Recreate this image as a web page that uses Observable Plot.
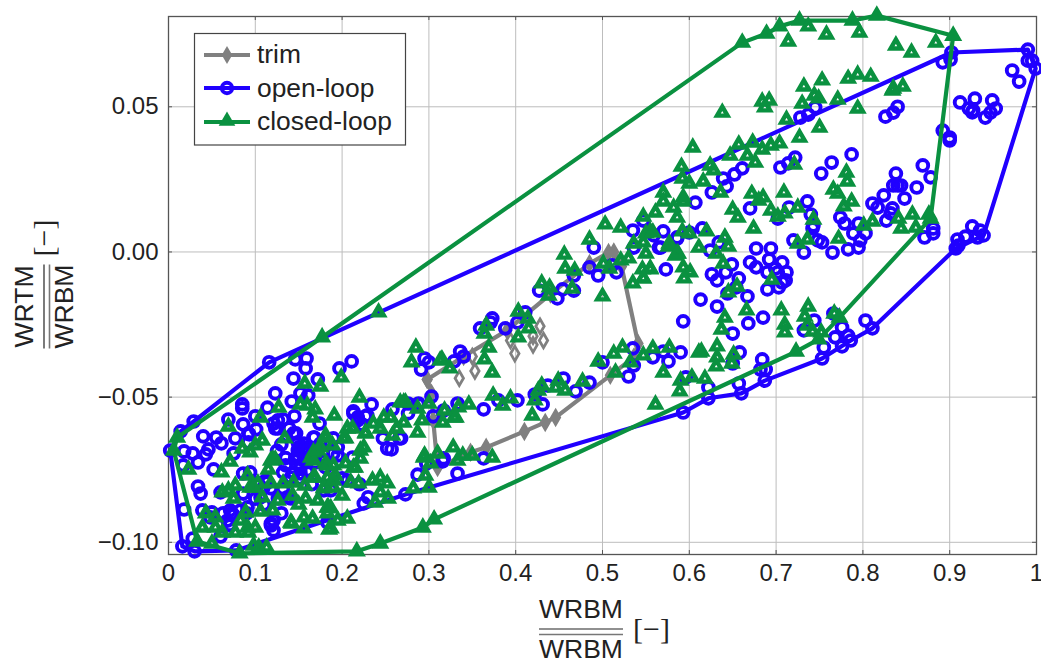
<!DOCTYPE html>
<html><head><meta charset="utf-8">
<script src="https://cdn.jsdelivr.net/npm/d3@7"></script>
<script src="https://cdn.jsdelivr.net/npm/@observablehq/plot@0.6"></script>
<style>html,body{margin:0;padding:0;background:#fff}svg{display:block}</style>
</head><body><div id="chart"></div>
<script>
const xTicks=[0,.1,.2,.3,.4,.5,.6,.7,.8,.9,1];
const yTicks=[.05,0,-.05,-.1];
const xTickLabels=["0","0.1","0.2","0.3","0.4","0.5","0.6","0.7","0.8","0.9","1"];
const yTickLabels=["0.05","0.00","−0.05","−0.10"];
const seriesNames=["trim","open-loop","closed-loop"];
const trimPath=[[.298,-.0439],[.34,-.036],[.39,-.027],[.44,-.0145],[.485,-.004],[.507,-.0002],[.513,0],[.522,-.005],[.541,-.0315],[.536,-.0363],[.509,-.0425],[.446,-.057],[.434,-.0587],[.41,-.0618],[.366,-.0673],[.348,-.069],[.31,-.0742],[.305,-.058],[.303,-.0487],[.298,-.0439]];
const trimPoints=[[.335,-.0435],[.353,-.041],[.35,-.036],[.399,-.035],[.394,-.0305],[.42,-.032],[.432,-.0305],[.428,-.0256],[.42,-.029]];
const openHull=[[.002,-.0684],[.014,-.0618],[.029,-.0584],[.116,-.038],[.902,.0687],[.99,.0697],[.999,.0632],[.939,.0057],[.907,.0012],[.811,-.0263],[.786,-.0305],[.753,-.0367],[.687,-.0443],[.66,-.0487],[.622,-.0504],[.593,-.0553],[.273,-.0835],[.078,-.1028],[.03,-.1031],[.016,-.1014],[.002,-.0684]];
const openPoints=[[.99,.0697],[.99,.0659],[.995,.0659],[.999,.0632],[.972,.0625],[.98,.0587],[.902,.0687],[.901,.0663],[.892,.0653],[.912,.0515],[.929,.0528],[.922,.0494],[.927,.0487],[.926,.0481],[.949,.0522],[.953,.0494],[.947,.048],[.941,.0463],[.892,.0418],[.9,.0394],[.9,.0384],[.84,.05],[.835,.048],[.826,.0466],[.745,.0498],[.737,.0473],[.728,.0463],[.787,.0336],[.764,.0308],[.752,.027],[.722,.0325],[.714,.0305],[.705,.0291],[.661,.0288],[.652,.0267],[.639,.0253],[.643,.0226],[.626,.0205],[.607,.017],[.869,.0298],[.878,.0257],[.838,.027],[.835,.0229],[.844,.0229],[.84,.0229],[.862,.0222],[.848,.0184],[.824,.0195],[.811,.0167],[.817,.0153],[.834,.015],[.832,.0133],[.827,.0108],[.736,.0174],[.715,.0153],[.67,.015],[.74,.0129],[.774,.0119],[.779,.0098],[.702,.0115],[.926,.0088],[.935,.0074],[.939,.0057],[.932,.005],[.918,.0053],[.909,.0043],[.907,.0012],[.91,.0022],[.881,.0081],[.881,.0064],[.871,.005],[.789,.0064],[.803,.0064],[.795,.0098],[.797,.004],[.795,.0015],[.783,.0009],[.765,-.0002],[.753,.0033],[.748,.004],[.742,.0081],[.743,.0091],[.72,.004],[.732,-.0002],[.677,.0012],[.694,.0012],[.624,.0005],[.634,.0033],[.57,.0071],[.586,.0046],[.615,.0081],[.6,.0067],[.567,.0015],[.547,.0108],[.559,.0057],[.692,-.0026],[.707,-.0036],[.67,-.0036],[.677,-.0053],[.69,-.007],[.699,-.0057],[.712,-.007],[.711,-.0098],[.702,-.007],[.707,-.0105],[.703,-.0122],[.69,-.0129],[.649,-.0043],[.642,-.007],[.626,-.0077],[.632,-.0098],[.657,-.0091],[.654,-.0122],[.644,-.0143],[.667,-.0153],[.613,-.0164],[.632,-.0188],[.593,-.0239],[.685,-.0226],[.668,-.0246],[.65,-.0281],[.658,-.0346],[.59,-.0346],[.576,-.0377],[.57,-.0343],[.558,-.0363],[.65,-.0384],[.596,-.0432],[.622,-.0467],[.622,-.0504],[.593,-.0553],[.657,-.0453],[.66,-.0487],[.684,-.037],[.682,-.0405],[.688,-.0405],[.687,-.0443],[.732,-.027],[.744,-.0236],[.766,-.0212],[.776,-.026],[.768,-.0294],[.783,-.0288],[.786,-.0305],[.776,-.0325],[.755,-.0329],[.753,-.0367],[.803,-.0236],[.811,-.0263],[.49,.0015],[.485,-.0053],[.495,-.0081],[.516,-.007],[.511,-.0046],[.467,-.0081],[.467,-.0133],[.454,-.0129],[.448,-.016],[.427,-.0133],[.411,-.0208],[.402,-.0243],[.388,-.0263],[.373,-.0229],[.371,-.0243],[.359,-.0263],[.336,-.0343],[.34,-.036],[.329,-.0377],[.295,-.0367],[.3,-.038],[.291,-.0405],[.303,-.0498],[.305,-.0566],[.276,-.0522],[.288,-.0522],[.317,-.0546],[.333,-.0522],[.363,-.0542],[.38,-.0511],[.402,-.0511],[.422,-.0491],[.431,-.0525],[.437,-.046],[.455,-.0436],[.469,-.048],[.485,-.045],[.5,-.038],[.535,-.0332],[.536,-.0391],[.53,-.0429],[.573,-.006],[.535,.0074],[.536,.0015],[.565,.0015],[.586,.005],[.363,-.0711],[.317,-.0711],[.268,-.0642],[.116,-.038],[.146,-.037],[.159,-.0367],[.158,-.0401],[.144,-.0436],[.172,-.0439],[.197,-.0401],[.211,-.0377],[.123,-.0487],[.161,-.0494],[.152,-.0487],[.142,-.0515],[.085,-.0525],[.085,-.0539],[.114,-.0536],[.1,-.0566],[.132,-.0577],[.145,-.0566],[.069,-.0577],[.086,-.0594],[.121,-.0591],[.126,-.0608],[.139,-.0608],[.101,-.0611],[.093,-.0628],[.147,-.0625],[.077,-.0642],[.04,-.0635],[.055,-.0639],[.061,-.0659],[.092,-.0656],[.13,-.0663],[.168,-.0639],[.174,-.0591],[.213,-.0549],[.234,-.0525],[.218,-.057],[.227,-.0566],[.223,-.0594],[.258,-.0542],[.276,-.0556],[.288,-.0525],[.266,-.0642],[.257,-.068],[.247,-.0642],[.014,-.0618],[.029,-.0584],[.002,-.0684],[.018,-.0687],[.028,-.0694],[.046,-.068],[.043,-.0697],[.034,-.0725],[.017,-.0735],[.052,-.0749],[.075,-.0694],[.034,-.0808],[.037,-.0832],[.018,-.0887],[.039,-.089],[.05,-.0897],[.063,-.09],[.073,-.09],[.083,-.089],[.016,-.1014],[.028,-.0987],[.03,-.1031],[.078,-.1028],[.15,-.0673],[.156,-.0673],[.149,-.0711],[.16,-.0708],[.19,-.0694],[.195,-.0701],[.212,-.0708],[.135,-.0735],[.132,-.0759],[.144,-.0763],[.152,-.0763],[.16,-.0752],[.094,-.0759],[.086,-.0763],[.114,-.0794],[.109,-.0814],[.086,-.0832],[.06,-.0828],[.106,-.0845],[.137,-.0845],[.121,-.0925],[.118,-.0935],[.183,-.0931],[.225,-.0866],[.23,-.0845],[.125,-.0685],[.135,-.071],[.17,-.068],[.18,-.072],[.1,-.085],[.13,-.09],[.09,-.09],[.07,-.094],[.11,-.087],[.165,-.08],[.2,-.078],[.22,-.08],[.06,-.098],[.287,-.0767],[.297,-.0729],[.333,-.0763],[.273,-.0835],[.316,-.0721],[.149,-.0656],[.156,-.066],[.149,-.0684],[.16,-.0684],[.146,-.0711],[.152,-.0746],[.144,-.0759],[.16,-.0759],[.141,-.0777],[.15,-.078],[.112,-.0787],[.103,-.0797],[.118,-.0814],[.132,-.0814],[.141,-.0849],[.126,-.0849],[.091,-.088],[.071,-.089],[.075,-.0907],[.068,-.0925],[.071,-.0942],[.048,-.0914],[.118,-.0942],[.121,-.0959],[.179,-.0821],[.187,-.0821],[.206,-.0787],[.126,-.058],[.123,-.0608],[.092,-.0625],[.19,-.0642],[.195,-.0673],[.218,-.058],[.213,-.0556],[.229,-.0563],[.221,-.0597],[.252,-.0677],[.167,-.0639],[.144,-.0625],[.149,-.0701],[.156,-.0718],[.169,-.0725],[.175,-.066],[.181,-.0742]];
const closedHull=[[.006,-.0684],[.01,-.0639],[.177,-.0294],[.661,.0721],[.689,.0752],[.704,.0777],[.727,.0797],[.788,.0797],[.816,.0814],[.904,.0745],[.878,.0115],[.773,-.0226],[.749,-.0301],[.723,-.0343],[.306,-.0921],[.293,-.0949],[.244,-.1004],[.217,-.1031],[.082,-.1038],[.033,-.0997],[.006,-.0684]];
const closedPoints=[[.904,.0745],[.884,.0721],[.856,.0687],[.838,.0711],[.816,.0814],[.788,.0797],[.796,.0756],[.758,.0749],[.727,.0797],[.737,.0777],[.714,.0725],[.704,.0777],[.689,.0752],[.661,.0721],[.809,.0604],[.794,.0611],[.783,.0597],[.753,.0591],[.732,.057],[.744,.0539],[.749,.0529],[.73,.0511],[.771,.0525],[.794,.0494],[.835,.0563],[.846,.057],[.834,.0556],[.684,.0518],[.692,.0522],[.687,.0498],[.638,.048],[.712,.0456],[.75,.0429],[.727,.0394],[.673,.0377],[.657,.037],[.647,.0332],[.667,.0332],[.676,.0308],[.684,.0353],[.694,.0367],[.704,.0374],[.604,.036],[.591,.0294],[.592,.0253],[.6,.0236],[.624,.0298],[.628,.0281],[.616,.0243],[.636,.0205],[.721,.0301],[.781,.0274],[.782,.0243],[.766,.0215],[.771,.0201],[.709,.0205],[.672,.0201],[.685,.0188],[.68,.0177],[.57,.0205],[.57,.0174],[.593,.0188],[.593,.0174],[.582,.0153],[.561,.0136],[.586,.0119],[.547,.0122],[.65,.0146],[.656,.0119],[.694,.0143],[.725,.0153],[.71,.0133],[.702,.0122],[.778,.0157],[.787,.0174],[.743,.0112],[.841,.0115],[.857,.0129],[.876,.0129],[.878,.0115],[.861,.0084],[.844,.0081],[.811,.0105],[.801,.0091],[.674,.0081],[.592,.0071],[.6,.0064],[.62,.0071],[.641,.005],[.645,.0019],[.611,.0015],[.631,-.0005],[.576,.0019],[.587,-.0005],[.584,-.0012],[.555,.0071],[.547,.0033],[.772,.0046],[.736,.0043],[.725,.0029],[.639,-.004],[.593,-.0053],[.601,-.007],[.594,-.0091],[.555,-.0057],[.547,-.0091],[.695,-.0095],[.655,-.0119],[.645,-.0139],[.666,-.0201],[.641,-.0226],[.637,-.0267],[.706,-.0201],[.71,-.025],[.71,-.0277],[.737,-.0188],[.733,-.0222],[.736,-.0253],[.742,-.0274],[.752,-.0277],[.749,-.0301],[.767,-.0212],[.773,-.0226],[.723,-.0343],[.632,-.0325],[.632,-.0363],[.631,-.0394],[.651,-.0353],[.649,-.0384],[.614,-.0343],[.577,-.0329],[.558,-.0332],[.57,-.0415],[.59,-.0443],[.603,-.0432],[.618,-.0436],[.589,-.048],[.561,-.0525],[.503,.0095],[.521,.0084],[.485,.0043],[.456,-.0009],[.457,-.0057],[.468,-.0064],[.465,-.0126],[.501,-.004],[.508,-.0057],[.521,-.0029],[.5,-.0153],[.53,-.0022],[.536,.0029],[.55,.0064],[.558,.0067],[.55,-.0005],[.577,.0029],[.586,-.0005],[.546,-.006],[.555,-.006],[.547,-.0091],[.535,-.0108],[.43,-.0108],[.439,-.0122],[.438,-.015],[.403,-.0205],[.414,-.0229],[.415,-.0263],[.403,-.0294],[.366,-.0253],[.364,-.0281],[.369,-.0329],[.364,-.037],[.373,-.0415],[.324,-.0401],[.315,-.037],[.285,-.0329],[.28,-.038],[.513,-.035],[.523,-.0329],[.495,-.0377],[.515,-.0415],[.532,-.038],[.547,-.0356],[.611,-.0346],[.477,-.0446],[.43,-.046],[.426,-.0477],[.449,-.0443],[.446,-.0467],[.457,-.0477],[.422,-.0511],[.419,-.0563],[.394,-.0504],[.374,-.0494],[.385,-.0529],[.346,-.0525],[.334,-.0535],[.329,-.057],[.318,-.0546],[.316,-.0587],[.3,-.0522],[.287,-.0539],[.292,-.058],[.287,-.0622],[.271,-.0518],[.271,-.0587],[.328,-.0673],[.295,-.0701],[.31,-.0694],[.339,-.0701],[.35,-.0701],[.373,-.0708],[.177,-.0294],[.242,-.0208],[.313,-.0374],[.199,-.0432],[.157,-.0453],[.175,-.0463],[.22,-.0501],[.152,-.0525],[.16,-.0529],[.169,-.0542],[.127,-.0536],[.106,-.057],[.191,-.0563],[.166,-.057],[.069,-.0601],[.134,-.0642],[.01,-.0639],[.006,-.0684],[.023,-.0749],[.071,-.0722],[.061,-.0759],[.085,-.0677],[.094,-.069],[.1,-.0666],[.108,-.0649],[.12,-.0715],[.115,-.0749],[.091,-.077],[.077,-.0804],[.094,-.0811],[.069,-.0821],[.062,-.0828],[.075,-.0849],[.103,-.0797],[.118,-.0797],[.108,-.0845],[.132,-.0797],[.144,-.0794],[.157,-.0804],[.126,-.0856],[.143,-.0839],[.158,-.0849],[.15,-.087],[.172,-.0856],[.106,-.0894],[.12,-.089],[.089,-.0897],[.043,-.09],[.054,-.0914],[.039,-.0949],[.054,-.0949],[.062,-.0966],[.077,-.0966],[.083,-.0925],[.091,-.0949],[.1,-.0949],[.092,-.0966],[.142,-.0935],[.156,-.0952],[.156,-.0914],[.166,-.0918],[.184,-.088],[.183,-.09],[.206,-.0918],[.195,-.0925],[.185,-.0956],[.033,-.0997],[.05,-.1004],[.082,-.1038],[.098,-.1011],[.104,-.1018],[.113,-.1018],[.217,-.1031],[.244,-.1004],[.293,-.0949],[.306,-.0921],[.167,-.069],[.181,-.0639],[.167,-.0718],[.189,-.0666],[.175,-.0673],[.206,-.0608],[.212,-.0608],[.202,-.0642],[.227,-.0625],[.225,-.0673],[.221,-.0711],[.236,-.0591],[.248,-.057],[.256,-.057],[.244,-.0608],[.258,-.0632],[.263,-.0608],[.267,-.0518],[.273,-.0518],[.331,-.057],[.181,-.0728],[.19,-.0735],[.204,-.0728],[.215,-.0742],[.169,-.0777],[.183,-.0777],[.192,-.077],[.21,-.0794],[.219,-.0797],[.179,-.0814],[.19,-.0811],[.2,-.0839],[.235,-.0787],[.244,-.0777],[.252,-.0797],[.244,-.0828],[.253,-.0849],[.238,-.0863],[.282,-.0814],[.3,-.0811],[.296,-.077],[.294,-.0708],[.302,-.0728],[.333,-.0718],[.118,-.0718],[.123,-.0715],[.098,-.0811],[.167,-.0777],[.164,-.0708],[.172,-.0684],[.181,-.0632],[.183,-.0735],[.213,-.0742],[.221,-.0684],[.227,-.0622],[.204,-.0642],[.179,-.0811],[.19,-.0787],[.183,-.088],[.187,-.0883],[.141,-.0932],[.187,-.0952]];

const grey="#808080",blue="#2000ff",green="#0a9140",axisCol="#555",gridCol="#bdbdbd",textCol="#222";
const fmtX=new Map(xTicks.map((t,i)=>[t,xTickLabels[i]]));
const fmtY=new Map(yTicks.map((t,i)=>[t,yTickLabels[i]]));
const px={x:d=>d[0],y:d=>d[1]};
const plot=Plot.plot({
  width:1041,height:664,marginLeft:168,marginRight:5,marginTop:16,marginBottom:110,
  style:{background:"#fff",fontFamily:"'Liberation Sans',sans-serif"},
  x:{domain:[0,1]},y:{domain:[-.1042,.0811]},
  marks:[
    Plot.ruleX(xTicks,{stroke:gridCol,strokeWidth:1}),
    Plot.ruleY(yTicks,{stroke:gridCol,strokeWidth:1}),
    Plot.ruleX(xTicks,{stroke:axisCol,insetTop:534}),
    Plot.ruleX(xTicks,{stroke:axisCol,insetBottom:534}),
    Plot.ruleY(yTicks,{stroke:axisCol,insetRight:864}),
    Plot.ruleY(yTicks,{stroke:axisCol,insetLeft:864}),
    Plot.frame({stroke:axisCol,strokeWidth:1.3}),
    Plot.axisX({ticks:xTicks,tickSize:0,tickPadding:9,tickFormat:d=>fmtX.get(d),fontSize:24,fill:textCol,label:null}),
    Plot.axisY({ticks:yTicks,tickSize:0,tickPadding:10,tickFormat:d=>fmtY.get(d),fontSize:24,fill:textCol,label:null}),
    Plot.dot(trimPoints,{...px,symbol:"diamond",r:4.4,stroke:grey,strokeWidth:2.8,fill:"none"}),
    Plot.line(trimPath,{...px,stroke:grey,strokeWidth:4.2,curve:"linear"}),
    Plot.dot(trimPath,{...px,symbol:"diamond",r:5,stroke:grey,strokeWidth:1.5,fill:grey}),
    Plot.line(openHull,{...px,stroke:blue,strokeWidth:4.2,curve:"linear"}),
    Plot.dot(openPoints,{...px,symbol:"circle",r:5.4,stroke:blue,strokeWidth:3.9,fill:"none"}),
    Plot.line(closedHull,{...px,stroke:green,strokeWidth:4.2,curve:"linear"}),
    Plot.dot(closedPoints,{...px,symbol:"triangle",r:3.9,stroke:green,strokeWidth:4.4,fill:"none",strokeLinejoin:"miter"})
  ]
});
const svg=d3.select(plot);
const ff="'Liberation Sans',sans-serif";
// legend
const lg=svg.append("g");
lg.append("rect").attr("x",194.5).attr("y",33.5).attr("width",211).attr("height",111.5).attr("fill","#fff").attr("stroke","#444").attr("stroke-width",1.2);
const keys=[[55,63,grey],[88,97,blue],[122,130,green]];
keys.forEach(([yy,by,c],i)=>{
  lg.append("line").attr("x1",204).attr("x2",250).attr("y1",yy).attr("y2",yy).attr("stroke",c).attr("stroke-width",4.2);
  if(i==0)lg.append("path").attr("d",d3.symbol(d3.symbolDiamond,95)()).attr("transform",`translate(227,${yy})`).attr("fill",c);
  if(i==1)lg.append("circle").attr("cx",227).attr("cy",yy).attr("r",5.2).attr("fill","none").attr("stroke",c).attr("stroke-width",3.9);
  if(i==2)lg.append("path").attr("d",d3.symbol(d3.symbolTriangle,120)()).attr("transform",`translate(227,${yy-1})`).attr("fill",c);
  lg.append("text").attr("x",257).attr("y",by).attr("text-anchor","start").attr("font-size",26.4).attr("font-family",ff).attr("fill",textCol).text(seriesNames[i]);
});
// axis labels
function frac(g,top,bot){
  g.append("text").attr("text-anchor","middle").attr("y",-11).attr("font-size",26.5).attr("font-family",ff).attr("fill",textCol).text(top);
  g.append("line").attr("x1",-42).attr("x2",42).attr("y1",0).attr("y2",0).attr("stroke","#222").attr("stroke-width",1.2);
  g.append("line").attr("x1",-42).attr("x2",42).attr("y1",5.5).attr("y2",5.5).attr("stroke","#777").attr("stroke-width",1.6);
  g.append("text").attr("text-anchor","middle").attr("y",29).attr("font-size",26.5).attr("font-family",ff).attr("fill",textCol).text(bot);
}
const gx=svg.append("g").attr("transform","translate(581,629)");
frac(gx,"WRBM","WRBM");
gx.append("text").attr("x",52).attr("y",10).attr("text-anchor","start").attr("font-size",30).attr("font-family","'Liberation Serif',serif").attr("fill",textCol).text("[−]");
const gy=svg.append("g").attr("transform","translate(44,306.5) rotate(-90)");
frac(gy,"WRTM","WRBM");
gy.append("text").attr("x",50).attr("y",10).attr("text-anchor","start").attr("font-size",30).attr("font-family","'Liberation Serif',serif").attr("fill",textCol).text("[−]");
document.getElementById("chart").appendChild(plot);
</script></body></html>
